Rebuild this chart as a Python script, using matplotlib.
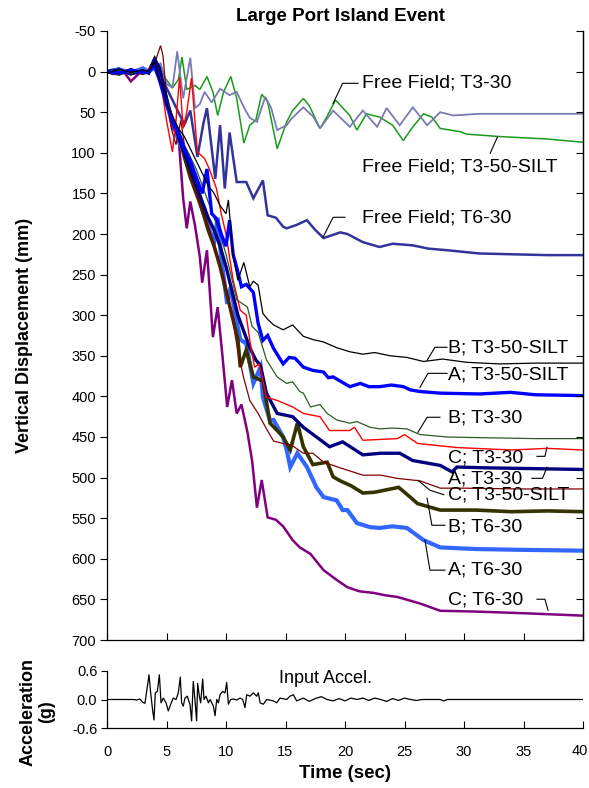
import matplotlib
matplotlib.use('Agg')
import matplotlib.pyplot as plt

plt.rcParams['font.family'] = ['Liberation Sans', 'DejaVu Sans']
plt.rcParams['axes.unicode_minus'] = False

# ---------------- data ----------------
# Free Field; T3-30
ff_t3_30_t = [0, 1, 2, 3, 3.5, 4, 4.5, 5, 5.5, 5.9, 6.4, 7.0, 7.4, 7.8, 8.2, 8.8, 9.5, 10.3, 10.9, 11.5, 12.0, 12.6,
              13.3, 13.8, 14.3, 15.1, 15.5, 16.5, 17.3, 17.9, 19.0, 20.4, 21.5, 22.7, 23.5, 24.6, 25.7, 26.9, 28.0,
              29.1, 31.3, 35, 40]
ff_t3_30_v = [0, -2, 1, -3, 0, -5, -10, 15, 20, -25, 33, -17, 45, 40, 25, 38, 21, 29, 25, 44, 57, 62,
              31, 45, 72, 66, 58, 44, 55, 70, 48, 68, 48, 68, 45, 66, 44, 66, 50,
              54, 52, 52, 52]
# Free Field; T3-50-SILT
ff_t3_50_t = [0, 1, 2, 3, 3.5, 4, 4.5, 5, 5.5, 6.0, 6.3, 6.7, 7.4, 7.8, 8.4, 8.9, 9.3, 9.8, 10.4, 10.9, 11.5, 12.0,
              12.5, 13.0, 13.5, 14.3, 15.1, 15.6, 16.5, 17.0, 17.9, 18.5, 19.2, 20.4, 21.0, 21.8, 22.9, 24.0, 24.9,
              25.6, 26.6, 27.3, 28.0, 29.7, 30.2, 33, 37, 40]
ff_t3_50_v = [0, 2, -1, 1, 0, -5, 0, 10, 20, 10, -18, 22, 17, 22, 6, 25, 54, 25, 6, 33, 88, 66,
              60, 28, 37, 95, 62, 48, 33, 42, 70, 55, 35, 54, 72, 52, 56, 66, 85,
              70, 52, 56, 70, 74, 77, 80, 83, 87]
# Free Field; T6-30
ff_t6_30_t = [0, 1, 2, 3, 3.5, 4, 4.5, 5, 5.5, 6, 6.5, 7, 7.6, 8.1, 8.4, 9.1, 9.5, 9.9, 10.3, 10.9, 11.7, 12.3,
              13.1, 13.5, 14.2, 14.8, 15.1, 15.9, 16.8, 17.5, 18.2, 19.6, 20.2, 21.5, 22.9, 24, 25.7, 27, 28.6,
              31.3, 34.1, 37, 40]
ff_t6_30_v = [0, 2, -2, 1, 0, -5, 5, 20, 35, 50, 65, 48, 105, 64, 45, 132, 66, 144, 75, 136, 136, 156,
              134, 177, 180, 191, 193, 189, 183, 195, 205, 198, 200, 210, 216, 212, 214, 218, 220,
              224, 225, 226, 226]
# B; T3-50-SILT
b_t3_50_t = [0, 1, 2, 3, 3.5, 4, 4.3, 4.7, 5, 5.5, 6, 6.5, 7, 7.5, 8, 8.5, 9, 9.5, 10, 10.2, 10.6, 11.0, 11.5,
             12.0, 12.3, 12.7, 13.1, 13.5, 14.0, 14.8, 15.6, 16.5, 17.3, 18.2, 19.3, 20.4, 21.5, 22.5, 23.8,
             25.2, 26.6, 28.2, 30.2, 33, 36, 40]
b_t3_50_v = [2, -3, 1, -2, 0, -12, 5, 20, 40, 55, 70, 80, 95, 110, 125, 140, 150, 165, 175, 158, 228, 257, 235,
             265, 258, 263, 298, 305, 312, 318, 312, 326, 330, 333, 340, 345, 348, 346, 350,
             352, 357, 354, 358, 360, 359, 359]
# A; T3-50-SILT
a_t3_50_t = [0, 1, 2, 3, 3.5, 4, 4.5, 5, 5.5, 6, 6.5, 7, 7.5, 8, 8.4, 8.8, 9.2, 9.6, 10, 10.3, 10.6, 10.9, 11.3,
             11.7, 12.3, 12.7, 13.1, 13.5, 14.0, 14.8, 15.3, 15.8, 16.5, 17.3, 18.2, 18.6, 19.0, 20.4, 21.3,
             22.0, 22.9, 23.9, 24.9, 25.5, 26.3, 28, 31.3, 33.9, 36, 40]
a_t3_50_v = [0, 2, -2, 1, 0, -8, 15, 40, 60, 75, 95, 110, 130, 150, 120, 175, 181, 200, 215, 183, 225, 241, 265,
             262, 272, 310, 331, 325, 341, 360, 352, 353, 364, 368, 370, 377, 376, 388, 384,
             388, 388, 386, 388, 392, 394, 396, 397, 395, 398, 399]
# B; T3-30
b_t3_30_t = [0, 1, 2, 3, 3.5, 4, 4.5, 5, 5.5, 6, 6.5, 7, 7.5, 8, 8.5, 9, 9.5, 10, 10.5, 10.9, 11.3, 11.8, 12.2,
             12.7, 13.4, 14.3, 15.1, 15.6, 16.2, 16.5, 17.1, 17.9, 18.5, 19.3, 20.4, 21.0, 22.1, 22.9, 24, 25.2,
             26.3, 28.6, 32, 36, 40]
b_t3_30_v = [0, -2, 2, -1, 0, -5, 15, 35, 55, 70, 90, 105, 120, 140, 160, 180, 200, 225, 255, 281, 285, 290, 314,
             321, 355, 376, 384, 382, 394, 396, 413, 410, 421, 429, 433, 431, 438, 440, 439, 440,
             447, 450, 451, 452, 452]
# C; T3-30
c_t3_30_t = [0, 1, 2, 3, 3.5, 4, 4.5, 5, 5.5, 5.8, 6.1, 6.4, 6.7, 7.1, 7.6, 8.2, 8.6, 9.2, 9.6, 10.0, 10.6, 11.2,
             11.7, 12.0, 12.4, 12.8, 13.4, 14.3, 15.6, 16.5, 17.9, 18.7, 20.4, 20.8, 21.5, 24.4, 25.0, 26.1,
             29.4, 34, 37, 40]
c_t3_30_v = [0, 3, -2, 2, -3, -10, 10, 60, 99, 60, 7, 70, 50, 8, 99, 107, 120, 144, 175, 200, 257, 294,
             300, 331, 364, 360, 401, 405, 413, 421, 425, 442, 442, 438, 454, 452, 447, 458,
             463, 466, 464, 466]
# A; T3-30
a_t3_30_t = [0, 1, 2, 3, 3.5, 4, 4.4, 4.8, 5.2, 5.6, 6, 6.5, 7, 7.5, 8, 8.5, 9, 9.5, 10, 10.5, 11, 11.5, 12, 12.5,
             12.9, 13.4, 14.3, 15.6, 16.5, 17.6, 18.7, 19.8, 21.5, 23.0, 24.6, 25.7, 28.0, 29.0, 29.4, 32, 36, 40]
a_t3_30_v = [0, -2, 3, -1, 2, -15, -5, 20, 45, 65, 80, 100, 120, 140, 160, 180, 195, 215, 240, 270, 300, 320, 340,
             355, 362, 396, 421, 425, 438, 450, 462, 456, 472, 470, 470, 479, 485, 493, 487, 488, 489, 490]
# C; T3-50-SILT
c_t3_50_t = [0, 1, 2, 3, 3.5, 4, 4.5, 4.7, 5, 5.4, 5.8, 6.2, 6.6, 7, 7.5, 8, 8.5, 9, 9.5, 10, 10.5, 11, 11.5, 12,
             12.7, 13.4, 14, 14.8, 15.5, 16.5, 17.3, 18.2, 19.6, 21.5, 23.0, 24.4, 26.3, 28.0, 30, 35, 40]
c_t3_50_v = [0, 2, -1, 3, 0, -10, -32, -20, 30, 70, 90, 60, 100, 130, 150, 170, 190, 215, 240, 265, 300, 345, 378,
             405, 421, 440, 455, 458, 460, 470, 470, 481, 488, 497, 497, 501, 504, 513, 513, 514, 514]
# B; T6-30
b_t6_30_t = [0, 1, 2, 3, 3.5, 4, 4.5, 5, 5.5, 6, 6.5, 7, 7.5, 8, 8.5, 9, 9.5, 10, 10.5, 11, 11.2, 11.7, 12.3,
             12.9, 13.1, 13.7, 14.3, 14.8, 15.4, 16.0, 16.5, 17.3, 18.5, 19.0, 19.6, 20.5, 21.5, 22.5, 23.5, 24.5,
             25.0, 26.1, 28, 31, 34, 37, 40]
b_t6_30_v = [0, 3, -2, 2, 0, -15, 5, 35, 60, 75, 105, 130, 150, 170, 195, 215, 240, 270, 300, 330, 364, 343, 376,
             380, 380, 433, 442, 450, 466, 433, 462, 484, 481, 499, 504, 510, 519, 518, 515, 512,
             518, 532, 540, 540, 542, 541, 542]
# A; T6-30
a_t6_30_t = [0, 1, 2, 3, 3.5, 4, 4.5, 5, 5.5, 6, 6.5, 7, 7.5, 8, 8.5, 9, 9.3, 9.6, 10.1, 10.4, 10.8, 11.2, 11.7,
             12.3, 12.9, 13.1, 13.7, 14.0, 14.8, 15.1, 15.4, 16.0, 16.8, 17.6, 18.2, 19.3, 19.8, 20.2, 21.0, 22.1,
             22.9, 24, 25.2, 26.6, 28, 31, 35, 40]
a_t6_30_v = [0, -3, 2, -4, 0, -5, 10, 40, 60, 85, 100, 125, 145, 170, 190, 210, 180, 230, 286, 265, 300, 330, 335,
             384, 364, 401, 430, 429, 450, 466, 487, 470, 487, 512, 524, 528, 540, 540, 556, 561,
             562, 560, 562, 577, 586, 588, 589, 590]
# C; T6-30
c_t6_30_t = [0, 0.5, 1, 1.5, 2, 2.5, 3, 3.5, 4, 4.5, 5, 5.5, 6, 6.4, 6.7, 7.0, 7.4, 7.8, 8.0, 8.4, 8.9, 9.3, 9.7,
             10.1, 10.5, 10.9, 11.3, 11.8, 12.2, 12.6, 13.0, 13.5, 14.2, 14.8, 15.6, 16.2, 17.1, 18.2, 19.3, 20.2,
             21.2, 22.4, 23.4, 24.4, 26.3, 28, 31, 35, 40]
c_t6_30_v = [0, 3, -4, 2, 12, 5, -2, 0, -8, 0, 40, 70, 78, 156, 193, 160, 190, 228, 260, 220, 327, 290, 350,
             413, 380, 421, 410, 444, 480, 537, 503, 549, 552, 560, 577, 586, 594, 614, 626, 635,
             640, 642, 645, 647, 655, 664, 665, 667, 670]

# Input acceleration (g)
acc_t = [0, 2.21, 2.49, 2.77, 3.0, 3.19, 3.53, 3.67, 3.84, 3.95, 4.06, 4.23, 4.40, 4.54, 4.73, 4.96, 5.15, 5.35,
         5.57, 5.80, 5.99, 6.16, 6.27, 6.41, 6.55, 6.75, 6.97, 7.11, 7.25, 7.39, 7.53, 7.62, 7.76, 7.87, 8.04,
         8.15, 8.32, 8.52, 8.66, 8.94, 9.08, 9.22, 9.36, 9.50, 9.72, 9.92, 10.06, 10.2, 10.39, 10.62, 10.9,
         11.18, 11.4, 11.6, 11.74, 12.02, 12.3, 12.58, 12.72, 12.86, 13.14, 13.42, 13.98, 14.26, 14.54, 15.1,
         15.38, 15.66, 15.94, 16.5, 17, 17.5, 18, 18.5, 19, 19.5, 20, 20.5, 21, 21.5, 22, 22.5, 23, 23.5, 24,
         24.5, 25, 25.5, 26, 26.5, 28, 28.3, 28.6, 40]
acc_v = [0, 0, -0.01, 0.01, -0.06, -0.08, 0.52, 0.14, -0.24, -0.43, 0.14, 0.17, 0.52, -0.07, 0.03, -0.07,
         -0.24, -0.10, 0.03, 0, 0.14, 0.47, -0.07, -0.14, 0.03, 0.07, -0.10, -0.45, 0.38, 0, -0.45, 0.34, 0.07,
         -0.07, 0.43, 0, 0.07, -0.07, 0, -0.14, -0.34, 0, -0.07, 0.10, 0.17, 0.14, 0.36, -0.10, 0, 0.01, -0.01,
         0.03, 0, -0.17, 0.10, 0.07, 0.14, 0.07, 0.14, -0.07, -0.10, 0, -0.03, -0.07, 0.03, 0,
         0.07, 0.10, -0.03, 0.03, -0.04, 0.02, 0.06, 0, -0.03, 0.02, -0.03, 0.03, 0, 0.03, -0.02, 0.03, 0, -0.04,
         0.02, -0.02, 0.03, 0, -0.02, 0, 0, -0.03, 0, 0]

x_ticks = [0, 5, 10, 15, 20, 25, 30, 35, 40]
disp_ticks = list(range(-50, 701, 50))
acc_ticks = [-0.6, 0.0, 0.6]
acc_tick_labels = ['-0.6', '0.0', '0.6']

# ---------------- styles ----------------
series = [
    (ff_t3_50_t, ff_t3_50_v, '#1A9A1A', 1.1),
    (ff_t3_30_t, ff_t3_30_v, '#7A7AB4', 1.3),
    (ff_t6_30_t, ff_t6_30_v, '#333399', 1.8),
    (c_t6_30_t, c_t6_30_v, '#800080', 1.8),
    (a_t6_30_t, a_t6_30_v, '#3366FF', 3.0),
    (b_t6_30_t, b_t6_30_v, '#333300', 2.6),
    (c_t3_50_t, c_t3_50_v, '#800000', 0.9),
    (a_t3_30_t, a_t3_30_v, '#000080', 2.4),
    (c_t3_30_t, c_t3_30_v, '#FF0000', 1.0),
    (b_t3_30_t, b_t3_30_v, '#2E5A27', 0.9),
    (a_t3_50_t, a_t3_50_v, '#0000FF', 2.4),
    (b_t3_50_t, b_t3_50_v, '#000000', 0.9),
]

# label text, text anchor (t, v), leader polyline (t list, v list)
labels = [
    ('Free Field; T3-30', 21.43, 14.4, [21.1, 19.8, 19.0], [14.4, 14.4, 39.2]),
    ('Free Field; T3-50-SILT', 21.43, 117.8, [32.2, 32.8], [100.6, 80.9]),
    ('Free Field; T6-30', 21.43, 180.7, [20.0, 19.0, 18.15], [179.4, 179.4, 204]),
    ('B; T3-50-SILT', 28.66, 340.8, [28.57, 27.56, 26.9], [339.5, 339.5, 355.5]),
    ('A; T3-50-SILT', 28.66, 374.0, [28.57, 26.97, 26.3], [371.6, 371.6, 388.8]),
    ('B; T3-30', 28.66, 427.0, [27.98, 26.9, 26.13], [425.7, 425.7, 444.2]),
    ('C; T3-30', 28.66, 476.2, [36.13, 36.8, 36.97], [473.8, 473.8, 462.7]),
    ('A; T3-30', 28.66, 502.0, [35.7, 36.6, 36.97], [500.9, 500.9, 487.3]),
    ('C; T3-50-SILT', 28.66, 521.8, [28.3, 27.14, 26.13], [521.0, 515.6, 503.3]),
    ('B; T6-30', 28.66, 561.0, [28.4, 27.3, 26.9], [558.7, 558.7, 525.5]),
    ('A; T6-30', 28.66, 614.0, [28.4, 27.14, 26.72], [614.0, 614.0, 577.0]),
    ('C; T6-30', 28.66, 651.0, [36.13, 36.8, 37.06], [649.8, 649.8, 663.4]),
]

# ---------------- figure ----------------
W, H = 589, 788
fig = plt.figure(figsize=(W / 100, H / 100), dpi=100)
ax = fig.add_axes([107 / W, 1 - 640 / H, 476 / W, 609 / H])
ax2 = fig.add_axes([107 / W, 1 - 728 / H, 476 / W, 57 / H])

for t, v, c, lw in series:
    ax.plot(t, v, color=c, lw=lw, solid_joinstyle='miter')

for txt, tx, ty, lt, lv in labels:
    ax.plot(lt, lv, color='black', lw=0.8)
    ax.text(tx, ty, txt, fontsize=14, ha='left', va='center')

ax.set_xlim(0, 40)
ax.set_ylim(700, -50)
ax.set_yticks(disp_ticks)
ax.set_xticks(x_ticks)
ax.tick_params(axis='y', direction='out', length=5, width=0.8, labelsize=10.5, pad=3)
ax.tick_params(axis='x', direction='in', length=5, width=0.8, labelbottom=False)
ax.spines['top'].set_visible(False)
for s in ['left', 'right', 'bottom']:
    ax.spines[s].set_linewidth(0.9)

axr = ax.twinx()
axr.set_ylim(700, -50)
axr.set_yticks(disp_ticks)
axr.tick_params(axis='y', direction='in', length=5, width=0.8, labelright=False)
for s in ['left', 'top', 'bottom']:
    axr.spines[s].set_visible(False)
axr.spines['right'].set_linewidth(0.9)

ax2.plot(acc_t, acc_v, color='black', lw=0.9)
ax2.set_xlim(0, 40)
ax2.set_ylim(-0.6, 0.6)
ax2.set_yticks(acc_ticks)
ax2.set_yticklabels(acc_tick_labels)
ax2.set_xticks(x_ticks)
ax2.set_xticklabels([str(x) for x in x_ticks[:-1]] + [''])
ax2.tick_params(axis='y', direction='out', length=4, width=0.8, labelsize=10.5, pad=3)
ax2.tick_params(axis='x', direction='in', length=5, width=0.8, labelsize=10.5, pad=12)
ax2.spines['top'].set_visible(False)
ax2.spines['right'].set_visible(False)
for s in ['left', 'bottom']:
    ax2.spines[s].set_linewidth(0.9)
ax2.text(18.4, 0.45, 'Input Accel.', fontsize=13, ha='center', va='center')
# last x tick label placed so it stays inside the canvas
fig.text(588 / W, 1 - 751 / H, str(x_ticks[-1]), fontsize=10.5, ha='right', va='center')

fig.text(340 / W, 1 - 16.5 / H, 'Large Port Island Event', fontsize=13.5, fontweight='bold',
         ha='center', va='center')
fig.text(25 / W, 1 - 335 / H, 'Vertical Displacement (mm)', fontsize=13, fontweight='bold',
         rotation=90, ha='center', va='center')
fig.text(37 / W, 1 - 712 / H, 'Acceleration\n(g)', fontsize=13, fontweight='bold',
         rotation=90, ha='center', va='center', multialignment='center', linespacing=1.1)
fig.text(345 / W, 1 - 773 / H, 'Time (sec)', fontsize=13.5, fontweight='bold', ha='center', va='center')

fig.savefig('out.png', dpi=100)
